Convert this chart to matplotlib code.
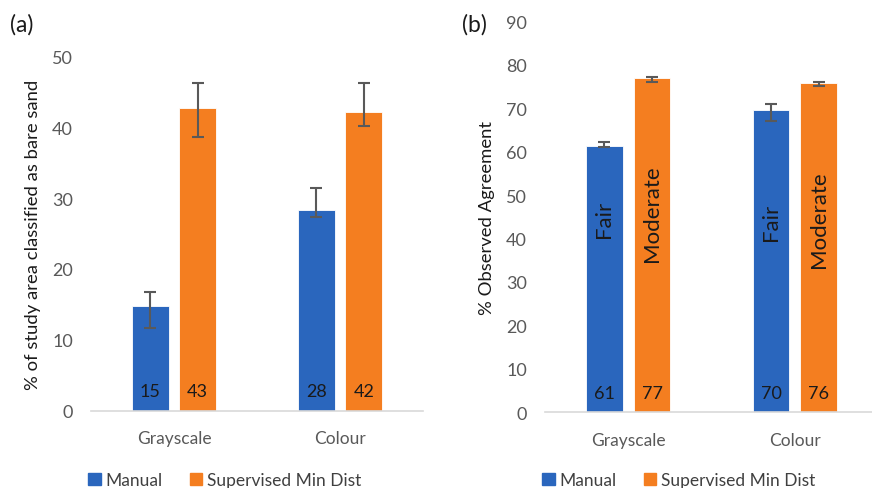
import matplotlib
matplotlib.use("Agg")
import matplotlib.pyplot as plt
import numpy as np
from matplotlib.patches import Patch

plt.rcParams['font.family'] = ['Lato', 'DejaVu Sans']

categories = ["Grayscale", "Colour"]
series = ["Manual", "Supervised Min Dist"]

# Panel (a): % of study area classified as bare sand
a_manual = [14.8, 28.35]
a_super = [42.65, 42.2]
a_manual_err_lo = [3.2, 1.05]
a_manual_err_hi = [2.0, 3.05]
a_super_err_lo = [4.05, 2.0]
a_super_err_hi = [3.55, 4.1]
a_manual_lbl = ["15", "28"]
a_super_lbl = ["43", "42"]

# Panel (b): % observed agreement
b_manual = [61.4, 69.6]
b_super = [76.9, 75.7]
b_manual_err_lo = [0.4, 2.6]
b_manual_err_hi = [0.9, 1.4]
b_super_err_lo = [0.8, 0.6]
b_super_err_hi = [0.2, 0.4]
b_manual_lbl = ["61", "70"]
b_super_lbl = ["77", "76"]
b_manual_kappa = ["Fair", "Fair"]
b_super_kappa = ["Moderate", "Moderate"]

BLUE = "#2A66BD"
ORANGE = "#F47E20"
TICK = "#595959"
ERR = "#595959"

fig = plt.figure(figsize=(8.72, 4.89), dpi=100)
axa = fig.add_axes([91/872, (489-411.7)/489, 332/872, (411.7-57.3)/489])
axb = fig.add_axes([545/872, (489-413.3)/489, 333/872, (413.3-22.3)/489])

x = np.arange(len(categories))
w = 0.22
off = 0.143
FS = 12.5


def draw(ax, man, sup, mlo, mhi, slo, shi, mlbl, slbl, ylim, step, ylabel):
    ax.bar(x - off, man, w, color=BLUE, edgecolor="white", linewidth=0.6, zorder=2)
    ax.bar(x + off, sup, w, color=ORANGE, edgecolor="white", linewidth=0.6, zorder=2)
    ax.errorbar(x - off, man, yerr=[mlo, mhi], fmt="none", ecolor=ERR, elinewidth=1.5,
                capsize=4, capthick=1.5, zorder=3)
    ax.errorbar(x + off, sup, yerr=[slo, shi], fmt="none", ecolor=ERR, elinewidth=1.5,
                capsize=4, capthick=1.5, zorder=3)
    for i in range(len(categories)):
        ax.annotate(mlbl[i], (x[i] - off, 0), xytext=(0, 14), textcoords="offset points",
                    ha="center", va="center", fontsize=FS + 0.5, color="#1a1a1a", zorder=4)
        ax.annotate(slbl[i], (x[i] + off, 0), xytext=(0, 14), textcoords="offset points",
                    ha="center", va="center", fontsize=FS + 0.5, color="#1a1a1a", zorder=4)
    ax.set_xlim(-0.5, 1.5)
    ax.set_ylim(*ylim)
    ax.set_yticks(np.arange(ylim[0], ylim[1] + 0.1, step))
    ax.set_xticks(x)
    ax.set_xticklabels(categories)
    ax.tick_params(axis="y", length=0, pad=13, labelsize=FS + 0.5, labelcolor=TICK)
    ax.tick_params(axis="x", length=0, pad=14, labelsize=FS, labelcolor=TICK)
    for s in ["top", "right", "left"]:
        ax.spines[s].set_visible(False)
    ax.spines["bottom"].set_color("#D9D9D9")
    ax.spines["bottom"].set_linewidth(1.2)
    ax.set_ylabel(ylabel, fontsize=FS + 0.8, color="#1a1a1a", labelpad=8)


draw(axa, a_manual, a_super, a_manual_err_lo, a_manual_err_hi, a_super_err_lo, a_super_err_hi,
     a_manual_lbl, a_super_lbl, (0, 50), 10, "% of study area classified as bare sand")
draw(axb, b_manual, b_super, b_manual_err_lo, b_manual_err_hi, b_super_err_lo, b_super_err_hi,
     b_manual_lbl, b_super_lbl, (0, 90), 10, "% Observed Agreement")

kappa_y_m = [44.7, 43.9]
kappa_y_s = [46.0, 44.5]
for i in range(len(categories)):
    axb.text(x[i] - off, kappa_y_m[i], b_manual_kappa[i], rotation=90, ha="center", va="center",
             fontsize=FS + 3.5, color="#1a1a1a", zorder=4)
    axb.text(x[i] + off, kappa_y_s[i], b_super_kappa[i], rotation=90, ha="center", va="center",
             fontsize=FS + 3.5, color="#1a1a1a", zorder=4)

handles = [Patch(color=BLUE, label=series[0]), Patch(color=ORANGE, label=series[1])]
for cx in [225/872, 679/872]:
    fig.legend(handles=handles, loc="center", bbox_to_anchor=(cx, 1 - 481/489), ncol=2,
               frameon=False, fontsize=FS, handlelength=0.7, handleheight=0.7,
               handletextpad=0.3, columnspacing=1.55, labelcolor="#404040")

fig.text(10/872, 1 - 25/489, "(a)", fontsize=FS + 4, ha="left", va="center", color="#1a1a1a")
fig.text(462/872, 1 - 25/489, "(b)", fontsize=FS + 4, ha="left", va="center", color="#1a1a1a")

fig.savefig("out.png", dpi=100)
